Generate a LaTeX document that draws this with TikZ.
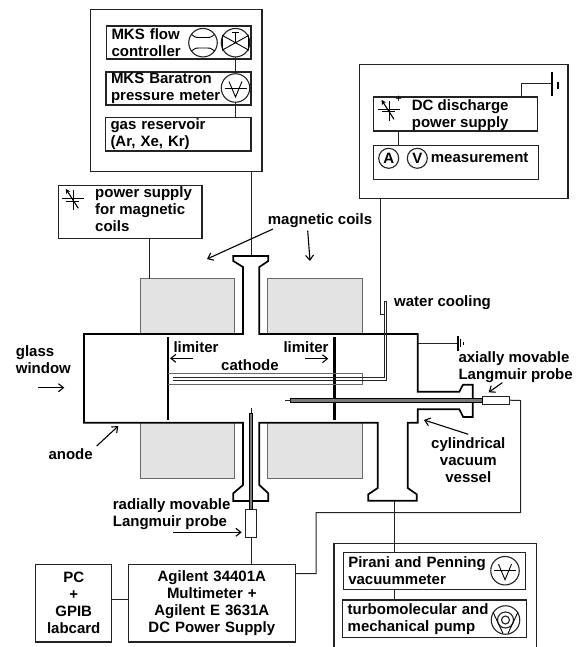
\documentclass[tikz,border=0pt]{standalone}
\usepackage{fontspec}
\setmainfont{Liberation Sans}
\usetikzlibrary{
  arrows.meta,
  positioning,
  calc
}
\definecolor{rigLine}{RGB}{35,35,35}
\definecolor{rigCoil}{RGB}{227,227,227}
\definecolor{rigEdge}{RGB}{105,105,105}
\definecolor{rigRod}{RGB}{120,120,120}
\tikzset{
  rigtext/.style={
    font=\bfseries\fontsize{15}{17}\selectfont,
    text=black,
    inner sep=0pt
  },
  rigbox/.style={
    draw=rigLine,
    line width=1.2pt,
    rectangle,
    anchor=north west,
    outer sep=0pt,
    rigtext
  },
  insetbox/.style={
    rigbox,
    inner xsep=5pt,
    align=left
  },
  coil/.style={
    draw=rigEdge,
    line width=1pt,
    fill=rigCoil,
    anchor=north west,
    outer sep=0pt,
    minimum width=#1,
    minimum height=55.5pt
  },
  tag/.style={
    rigtext,
    anchor=base west,
    align=left
  },
  gauge/.style={
    circle,
    draw=rigLine,
    line width=1.1pt,
    minimum size=28.5pt,
    inner sep=0pt,
    outer sep=0pt
  },
  meter/.style={
    gauge,
    minimum size=20pt,
    rigtext
  },
  wire/.style={
    draw=rigLine,
    line width=1pt
  },
  vessel/.style={
    draw=black,
    line width=1.7pt,
    line join=miter
  },
  limiter/.style={
    draw=black,
    line width=2.4pt
  },
  pointer/.style={
    -{Straight Barb[length=5pt,width=8pt]},
    draw=black,
    line width=1.1pt
  },
  rod/.style={
    draw=black,
    fill=rigRod,
    line width=.8pt
  },
  vsym/.pic={
    \draw[line width=.9pt] (-11,0) -- (11,0);
    \draw[line width=.9pt] (-6.5,-6.5) -- (0,9) -- (6.5,-6.5);
  },
  supplysym/.pic={
    \draw[line width=1pt] (-11,0) -- (11,0);
    \draw[line width=1pt] (-7,2.7) -- (6,2.7);
    \draw[line width=1pt] (0,-8) -- (0,12);
    \draw[pointer, -{Stealth[length=5pt,width=5pt]}] (5,10) -- (-7.5,-9.5);
  }
}
\begin{document}
\begin{tikzpicture}[x=1pt,y=-1pt]
  \useasboundingbox (0,0) rectangle (578,647);

  % gas feed
  \node[rigbox, minimum width=171.5pt, minimum height=162pt] (gasunit) at (90.5,9.3) {};
  \node[insetbox, text width=134.5pt, minimum height=33pt] (flow) at (106.5,26)
    {MKS flow\\controller};
  \node[insetbox, text width=135pt, minimum height=33pt] (baratron) at (106,72)
    {MKS Baratron\\pressure meter};
  \node[insetbox, text width=135.5pt, minimum height=33.5pt] (reservoir) at (105.5,117.5)
    {gas reservoir\\(Ar, Xe, Kr)};
  \node[gauge] (flowmeter) at (203,42.7) {};
  \draw[line width=.9pt] (191.5,34.5) .. controls (196,38) and (197,37.5) .. (199,37.5) -- (207,37.5) .. controls (209,37.5) and (210,38) .. (214.5,34.5);
  \draw[line width=.9pt] (191.5,51) .. controls (196,47.5) and (197,48) .. (199,48) -- (207,48) .. controls (209,48) and (210,47.5) .. (214.5,51);
  \node[gauge] (valve) at (235.5,42.7) {};
  \draw[line width=.9pt] (222.5,35.5) -- (248.5,50) -- (248.5,35.5) -- (222.5,50) -- cycle;
  \draw[line width=.9pt] (235.5,42.7) -- (235.5,32.5) (232,32.5) -- (239,32.5);
  \node[gauge] (barogauge) at (235.5,88) {};
  \pic at (barogauge) {vsym};
  \draw[wire] (valve.south) -- (valve.south |- baratron.north);
  \draw[wire] (barogauge.south) -- (barogauge.south |- reservoir.north);

  % magnet supply
  \node[rigbox, minimum width=143.5pt, minimum height=53pt] (magsupply) at (58.5,185.7) {};
  \node[tag] (magtext) at (95,231.7) {power supply\\for magnetic\\coils};
  \pic at (73.3,198.3) {supplysym};

  % discharge supply
  \node[rigbox, minimum width=208.5pt, minimum height=134pt] (dcunit) at (359.5,64.7) {};
  \node[rigbox, minimum width=163.5pt, minimum height=34pt] (dcsupply) at (373.7,97) {};
  \node[tag] (dctext) at (411.7,127.3) {DC discharge\\power supply};
  \pic at (389,109.3) {supplysym};
  \node[inner sep=0pt, font=\fontsize{11}{11}\selectfont] (plus) at (398.7,99.3) {+};
  \node[rigbox, minimum width=164.5pt, minimum height=34pt] (measure) at (373.7,145.3) {};
  \node[meter] (ampere) at (388.7,158.3) {A};
  \node[meter] (volt) at (417.3,158.3) {V};
  \node[tag] (meastext) at (430.7,162.7) {measurement};
  \coordinate (dclink) at (398.7,131);
  \draw[wire] (dclink) -- (dclink |- measure.north);
  \coordinate (dcup) at (521,84);
  \coordinate (dcground) at (551.7,84);
  \draw[wire] (dcup |- dcsupply.north) -- (dcup) -- (dcground);
  \draw[line width=1.6pt] (551.7,71.7) -- (551.7,95.7);
  \draw[line width=1.2pt] (558,81.7) -- (558,88.7);

  % coils
  \node[coil=94pt] (coilul) at (140,278.7) {};
  \node[coil=95pt] (coilur) at (267.3,278.7) {};
  \node[coil=94pt] (coilll) at (140,422.7) {};
  \node[coil=95pt] (coillr) at (267.3,422.7) {};

  % wires to the vessel
  \coordinate (magfeed) at (149.7,278.7);
  \coordinate (gasfeed) at (251,256);
  \draw[wire] (magfeed |- magsupply.south) -- (magfeed);
  \draw[wire] (gasfeed |- gasunit.south) -- (gasfeed);

  % vessel
  \draw[vessel] (243,334) -- (243,267) -- (233.3,261) -- (233.3,256) -- (268.3,256) -- (268.3,261)
    -- (259.3,267) -- (259.3,334) -- (417.7,334) -- (417.7,391.7) -- (459.3,391.7) -- (463,384.7)
    -- (472.7,384.7) -- (472.7,417) -- (463.3,417) -- (459.3,409.3) -- (417.7,409.3) -- (417.7,422.7)
    -- (407.7,422.7) -- (407.7,488) -- (416.7,494.3) -- (416.7,500.7) -- (368.3,500.7) -- (368.3,494.3)
    -- (377.7,488) -- (377.7,422.7) -- (259.3,422.7) -- (259.3,485) -- (268.3,493.3) -- (268.3,501)
    -- (233.3,501) -- (233.3,493.3) -- (243,485) -- (243,422.7) -- (84,422.7) -- (84,334) -- cycle;
  \draw[limiter] (167.7,337.3) -- (167.7,420);
  \draw[limiter] (334.3,337.3) -- (334.3,420);

  % cathode and water cooling
  \draw[draw=rigEdge, line width=1pt] (167.7,373) -- (362.3,373) -- (362.3,384) -- (167.7,384);
  \draw[draw=rigLine, line width=1pt] (173.3,377) -- (384,377) -- (384,301) -- (386.7,301) -- (386.7,380) -- (173.3,380);
  \coordinate (coolbend) at (380,314.3);
  \draw[draw=rigLine, line width=1pt] (coolbend |- dcunit.south) -- (coolbend) -- (384,314.3);

  % probes
  \node[rigbox, line width=1pt, minimum width=27.5pt, minimum height=7.6pt] (axprobe) at (482.3,396.4) {};
  \draw[rod] (290.7,398.2) rectangle (482.3,402.4);
  \draw[wire] (285,400.3) -- (290.7,400.3);
  \node[rigbox, line width=1pt, minimum width=11pt, minimum height=28pt] (radprobe) at (245.7,509.3) {};
  \draw[rod] (249.3,413) rectangle (252.7,509.3);
  \draw[wire] (251,408) -- (251,413);

  % ground on the vessel
  \coordinate (vesselearth) at (458,343.3);
  \draw[wire] (417.7,343.3) -- (vesselearth);
  \draw[line width=1.6pt] (458,336) -- (458,351);
  \draw[line width=1.1pt] (460.8,339.3) -- (460.8,347.3);
  \draw[line width=1pt] (463.7,341.7) -- (463.7,345);

  % electronics
  \node[insetbox, align=center, inner xsep=0pt, text width=76pt, minimum height=77.7pt] (pc) at (35.7,564.3)
    {PC\\+\\GPIB\\labcard};
  \node[insetbox, align=center, inner xsep=0pt, text width=167pt, minimum height=77.7pt] (agilent) at (128.3,564.3)
    {Agilent 34401A\\Multimeter +\\Agilent E 3631A\\DC Power Supply};
  \coordinate (gpib) at (120,599.3);
  \draw[wire] (pc.east |- gpib) -- (agilent.west |- gpib);
  \draw[wire] (radprobe.south) -- (radprobe.south |- agilent.north);
  \coordinate (probeA) at (316,573.7);
  \coordinate (probeB) at (316,512.7);
  \coordinate (probeC) at (520.5,512.7);
  \coordinate (probeD) at (520.5,400.5);
  \draw[wire] (agilent.east |- probeA) -- (probeA) -- (probeB) -- (probeC) -- (probeD) -- (axprobe.east);

  % vacuum pumps
  \node[rigbox, minimum width=202.5pt, minimum height=110pt] (pumpunit) at (334,543.3) {};
  \node[insetbox, text width=172pt, minimum height=36.6pt] (pirani) at (343.3,552.7)
    {Pirani and Penning\\vacuummeter};
  \node[insetbox, text width=173.6pt, minimum height=37.7pt] (turbo) at (342.7,600)
    {turbomolecular and\\mechanical pump};
  \node[gauge] (piranigauge) at (505,570.7) {};
  \pic at (piranigauge) {vsym};
  \node[gauge] (pump) at (505.5,620) {};
  \node[gauge, minimum size=16pt] (pumpouter) at (pump) {};
  \node[gauge, minimum size=8pt] (pumpinner) at (pump) {};
  \draw[line width=.9pt] (493,612) -- (503,633.5) (518,612) -- (508,633.5);
  \coordinate (pumpfeed) at (394,500.7);
  \draw[wire] (pumpfeed) -- (pumpfeed |- pirani.north);
  \draw[wire] (pumpfeed |- pirani.south) -- (pumpfeed |- turbo.north);

  % labels
  \node[tag] (magcoils) at (267.7,224.5) {magnetic coils};
  \coordinate (coilulhead) at (207,259);
  \coordinate (coilurhead) at (310,261);
  \draw[pointer] (273,229) -- (coilulhead);
  \draw[pointer] (307.7,230.7) -- (coilurhead);
  \node[tag] (glass) at (15.7,373.3) {glass\\window};
  \draw[pointer] (38.3,387.7) -- (64.3,387.7);
  \node[tag] (anode) at (48.3,459.3) {anode};
  \draw[pointer] (96.7,446) -- (118.3,426);
  \node[tag] (limitl) at (173.3,352.7) {limiter};
  \draw[pointer] (193.3,358.3) -- (170,358.3);
  \node[tag] (limitr) at (283.3,352.7) {limiter};
  \draw[pointer] (305,358.7) -- (328.3,358.7);
  \node[tag] (cathode) at (221,370.7) {cathode};
  \node[tag] (water) at (394,306.7) {water cooling};
  \node[tag] (axial) at (458.3,379) {axially movable\\Langmuir probe};
  \draw[pointer] (502.3,382.7) -- (488.7,392.3);
  \node[tag, anchor=base, align=center] (cyl) at (468.3,482.7) {cylindrical\\vacuum\\vessel};
  \draw[pointer] (468.3,434.3) -- (424,420);
  \node[tag] (radial) at (112.7,526) {radially movable\\Langmuir probe};
  \draw[pointer] (173.3,532.3) -- (241.7,532.3);
\end{tikzpicture}
\end{document}
